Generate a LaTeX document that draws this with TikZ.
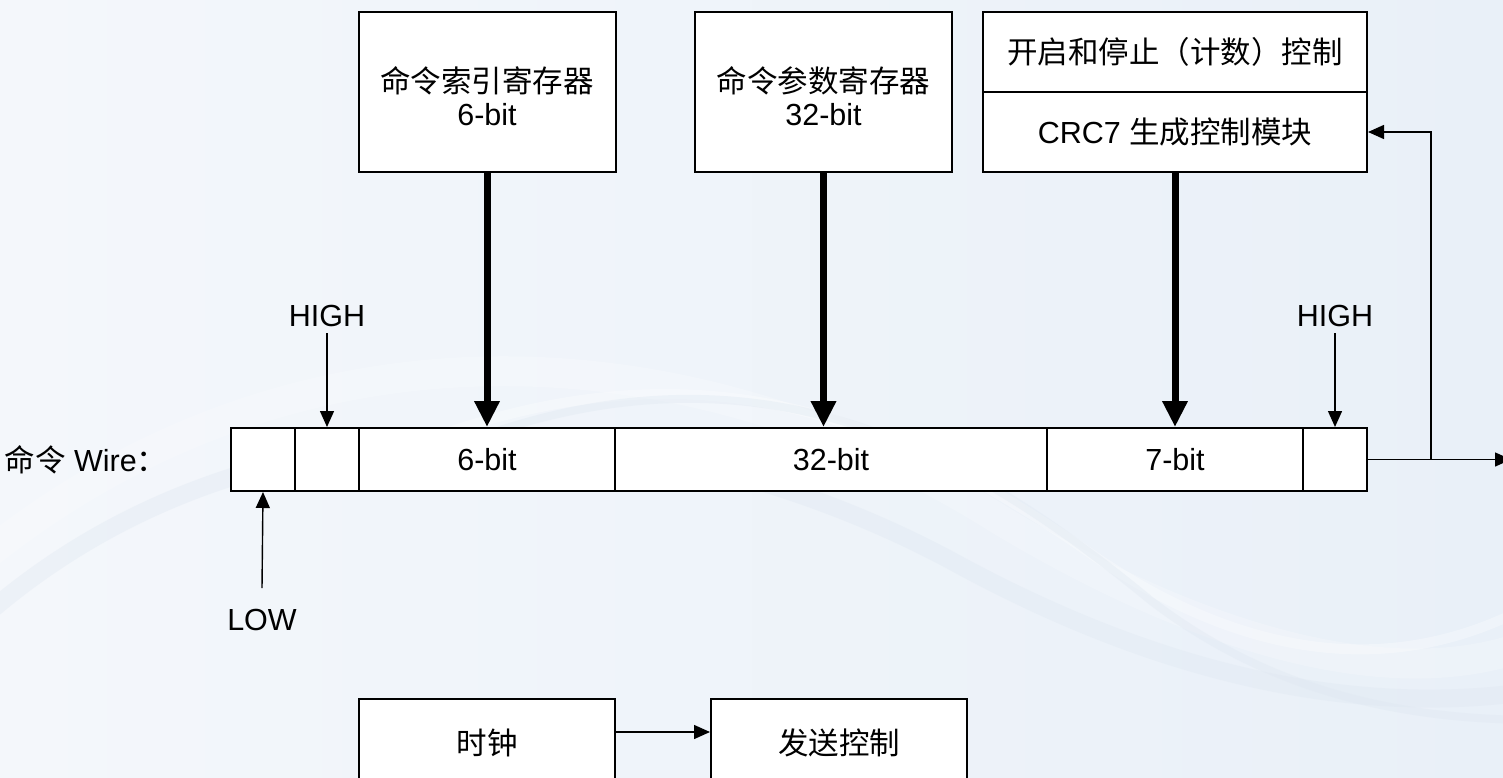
\documentclass[tikz,border=0pt]{standalone}
\usepackage{fontspec}
\setmainfont{Liberation Sans}
\newfontfamily\cjk{Noto Sans CJK SC}
\usetikzlibrary{arrows.meta}
\newcommand\zh[1]{{\cjk\fontsize{30.5}{36}\selectfont #1}}
\definecolor{bgL}{RGB}{244,247,251}
\definecolor{bgR}{RGB}{233,240,248}
\definecolor{wave}{RGB}{222,231,241}
\tikzset{
  box/.style={draw=black, line width=2pt, fill=white, inner sep=0pt, align=center,
    font=\fontsize{30.5}{35}\selectfont},
  cell/.style={box, minimum height=63pt},
  lbl/.style={inner sep=2pt, font=\fontsize{30.5}{35}\selectfont},
  thick arrow/.style={line width=7pt, -{Triangle[width=24pt,length=26pt]}},
  thin arrow/.style={line width=1.4pt, -{Triangle[width=14pt,length=16pt]}},
}
\begin{document}
\begin{tikzpicture}[x=1pt,y=-1pt]
\useasboundingbox (0,0) rectangle (1503,778);
\clip (0,0) rectangle (1503,778);
% background
\shade[left color=bgL, right color=bgR] (0,0) rectangle (1503,778);
\begin{scope}[line cap=round]
\draw[white, line width=30pt, opacity=0.2] (-20,560) .. controls (300,300) and (700,330) .. (1000,520) .. controls (1200,640) and (1400,700) .. (1540,640);
\draw[wave, line width=18pt, opacity=0.35] (-20,620) .. controls (250,380) and (650,400) .. (950,560) .. controls (1150,670) and (1350,720) .. (1540,690);
\draw[white, line width=10pt, opacity=0.3] (400,450) .. controls (700,330) and (900,420) .. (1100,560) .. controls (1250,660) and (1400,680) .. (1540,600);
\draw[wave, line width=8pt, opacity=0.35] (500,430) .. controls (780,340) and (980,460) .. (1150,600) .. controls (1280,700) and (1420,720) .. (1540,720);
\end{scope}

% top boxes
\node[box, minimum width=257pt, minimum height=160pt] (idx) at (487,92) {};
\node[align=center, inner sep=0pt, font=\fontsize{30.5}{35}\selectfont] (idxT) at (487,96)
  {\zh{命令索引寄存器}\\[-2pt]6-bit};
\node[box, minimum width=257pt, minimum height=160pt] (arg) at (823.5,92) {};
\node[align=center, inner sep=0pt, font=\fontsize{30.5}{35}\selectfont] (argT) at (823.5,96)
  {\zh{命令参数寄存器}\\[-2pt]32-bit};
\node[box, minimum width=384pt, minimum height=80pt] (ctl) at (1175,52)
  {\zh{开启和停止（计数）控制}};
\node[box, minimum width=384pt, minimum height=80pt] (crc) at (1175,132)
  {CRC7 \zh{生成控制模块}};

% wire cells
\node[cell, minimum width=64.5pt] (c1) at (263,459.5) {};
\node[cell, minimum width=64pt] (c2) at (327,459.5) {};
\node[cell, minimum width=256pt] (c3) at (487,459.5) {6-bit};
\node[cell, minimum width=432pt] (c4) at (831,459.5) {32-bit};
\node[cell, minimum width=256pt] (c5) at (1175,459.5) {7-bit};
\node[cell, minimum width=64pt] (c6) at (1335,459.5) {};

\node[lbl] (wire) at (86,460) {\zh{命令} Wire\zh{：}};

% labels
\node[lbl] (hl) at (327,316) {HIGH};
\node[lbl] (hr) at (1335,316) {HIGH};
\node[lbl] (low) at (262,620) {LOW};

% thick arrows
\draw[thick arrow] (idx.south) -- (c3.north);
\draw[thick arrow] (arg.south) -- (c4.north -| arg.south);
\draw[thick arrow] (crc.south) -- (c5.north);

% thin arrows
\coordinate (hlS) at (327,333);
\coordinate (hrS) at (1335,333);
\coordinate (lowS) at (262,588);
\draw[thin arrow] (hlS) -- (c2.north);
\draw[thin arrow] (hrS) -- (c6.north);
\draw[thin arrow] (lowS) -- (c1.south);

\coordinate (outE) at (1511,459.5);
\coordinate (fb) at (1431,459.5);
\draw[thin arrow] (c6.east) -- (outE);
\draw[thin arrow] (fb) |- (crc.east);

% bottom boxes
\node[box, minimum width=256pt, minimum height=88pt] (clk) at (487,743) {\zh{时钟}};
\node[box, minimum width=256pt, minimum height=88pt] (send) at (839,743) {\zh{发送控制}};
\coordinate (ay) at (0,732);
\draw[thin arrow] (clk.east |- ay) -- (send.west |- ay);
\end{tikzpicture}
\end{document}
